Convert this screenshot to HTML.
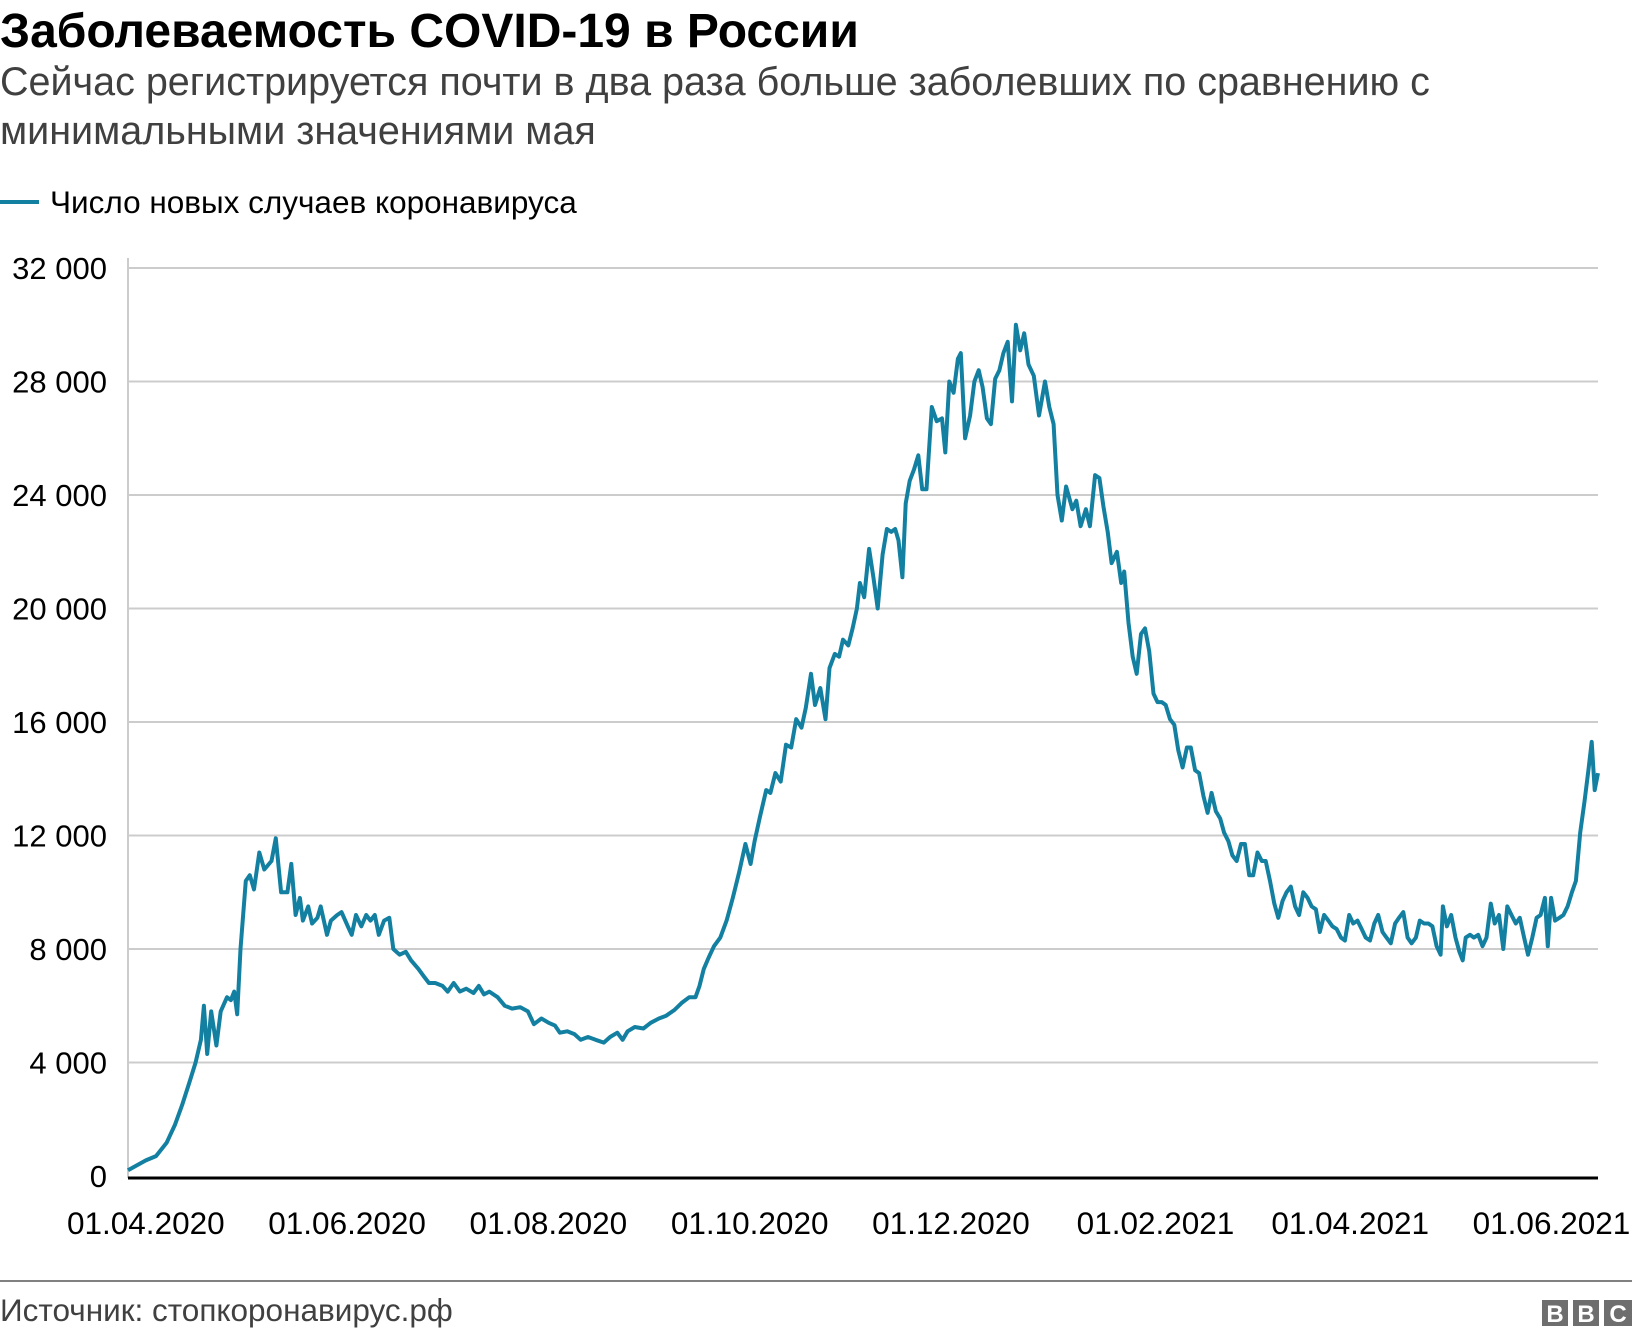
<!DOCTYPE html>
<html><head><meta charset="utf-8"><style>
body{margin:0;background:#fff;width:1632px;height:1336px;overflow:hidden;font-family:"Liberation Sans",Arial,sans-serif;}
svg text{font-family:"Liberation Sans",Arial,sans-serif;}
</style></head><body>
<svg id="c" width="1632" height="1336">
<text x="0" y="47" font-size="48" font-weight="bold" fill="#000">Заболеваемость COVID-19 в России</text>
<text x="0" y="95" font-size="39.5" fill="#404040">Сейчас регистрируется почти в два раза больше заболевших по сравнению с</text>
<text x="0" y="144" font-size="39.5" fill="#404040">минимальными значениями мая</text>
<line x1="0" y1="202" x2="39" y2="202" stroke="#1380a1" stroke-width="4"/>
<text x="50" y="213" font-size="31.5" fill="#000">Число новых случаев коронавируса</text>
<g id="grid"></g><g id="ylab"></g><g id="xlab"></g>
<line x1="128" y1="258" x2="128" y2="1178" stroke="#cccccc" stroke-width="2"/>
<path id="line" fill="none" stroke="#1380a1" stroke-width="4" stroke-linejoin="round"/>
<line x1="128" y1="1178" x2="1598" y2="1178" stroke="#000" stroke-width="3"/>
<line x1="0" y1="1281" x2="1632" y2="1281" stroke="#808080" stroke-width="2"/>
<text x="0" y="1321" font-size="31.5" fill="#404040">Источник: стопкоронавирус.рф</text>
<g>
<rect x="1542" y="1300" width="26" height="26" fill="#6e6e6e"/><rect x="1573" y="1300" width="26" height="26" fill="#6e6e6e"/><rect x="1604" y="1300" width="28" height="26" fill="#6e6e6e"/>
<text x="1555" y="1322" font-size="24" font-weight="bold" fill="#fff" text-anchor="middle">B</text>
<text x="1586" y="1322" font-size="24" font-weight="bold" fill="#fff" text-anchor="middle">B</text>
<text x="1618" y="1322" font-size="24" font-weight="bold" fill="#fff" text-anchor="middle">C</text>
</g>
</svg>
<script>
const yTicks=[0,4000,8000,12000,16000,20000,24000,28000,32000];
const yTickLabels=["0","4 000","8 000","12 000","16 000","20 000","24 000","28 000","32 000"];
const xTickDays=[5.4,66.4,127.4,188.4,249.4,311.4,370.4,431.4];
const xTickLabels=["01.04.2020","01.06.2020","01.08.2020","01.10.2020","01.12.2020","01.02.2021","01.04.2021","01.06.2021"];
const days=[0,5.4,8.5,11.7,14.2,16.4,18.6,20.5,22.1,23,24,25.2,26.8,28.1,30,31.2,32.2,33.1,34.1,35.7,36.9,38.2,39.8,41.3,43.5,44.8,46.4,48.3,49.5,50.8,52.1,53,54.6,55.8,57.4,58.4,60.3,61.5,63.4,64.7,66.6,67.8,69.1,70.7,72.2,73.5,74.8,76,77.6,79.2,80.4,82.3,84.2,85.8,88,89.9,91.2,93.1,95.3,96.9,98.7,100.6,102.5,104.7,106.3,107.9,109.5,112,114.2,116.4,118.9,121.2,123,125.3,127.5,129.4,130.9,133.1,135.3,137.2,139.4,141.7,144.2,146.1,148.3,149.9,151.4,153.6,156.2,158.4,160.9,163.1,165.6,167.8,170.1,172,173.2,174.5,176,177.6,179.5,181.4,183.3,185.2,187.1,188.7,189.9,191.5,193.4,194.7,196.2,197.8,199.4,201,202.5,204.1,205.4,207,208.2,209.8,211.4,212.6,214.2,215.5,216.7,218.3,219.6,220.9,221.8,223.1,224.6,225.9,227.2,228.7,230,231.3,232.5,233.5,234.7,235.7,236.9,238.2,239.5,240.7,242,243.6,245.1,246.7,247.7,248.9,250.2,251.5,252.4,253.7,255.2,256.5,257.8,259,260.3,261.5,262.8,264.1,265.3,266.6,267.9,269.1,270.4,271.6,272.9,274.5,276.1,277.9,279.2,280.5,281.7,283,284.3,286.2,287.4,288.7,290.3,291.5,293.1,294.4,295.6,296.9,298.1,299.7,301,301.9,303.2,304.5,305.7,307,308.2,309.5,310.8,312,313.3,314.5,315.8,317.1,318.3,319.6,320.9,322.1,323.4,324.6,325.9,327.2,328.4,329.7,331,332.2,333.5,334.7,336,337.3,338.5,339.8,341,342.3,343.6,344.8,346.1,347.4,348.6,349.9,351.1,352.4,353.7,354.9,356.2,357.5,358.7,360,361.2,362.5,363.8,365,366.3,367.6,368.8,370.1,371.3,372.6,373.9,375.1,376.4,377.7,378.9,380.2,381.4,382.7,384,385.2,386.5,387.8,389,390.3,391.5,392.8,394.1,395.3,396.6,397.8,398.5,399.7,401,402.3,403.5,404.5,405.4,406.7,407.9,409.2,410.5,411.7,413,414.2,415.5,416.8,418,419.3,420.6,421.8,423.1,424.3,425.6,426.9,428.1,429.4,430.3,431.3,432.5,433.8,435,436.3,437.6,438.8,440.1,441.4,442.6,443.6,444.5,445.5];
const cases=[200,550,700,1170,1800,2500,3300,4000,4800,6000,4300,5800,4600,5800,6300,6200,6500,5700,8000,10400,10600,10100,11400,10800,11100,11900,10000,10000,11000,9200,9800,9000,9500,8900,9100,9500,8500,9000,9200,9300,8800,8500,9200,8800,9200,9000,9200,8500,9000,9100,8000,7800,7900,7600,7300,7000,6800,6800,6700,6500,6800,6500,6600,6450,6700,6400,6500,6300,6000,5900,5950,5800,5350,5550,5400,5300,5050,5100,5000,4800,4900,4800,4700,4900,5050,4800,5100,5250,5200,5400,5550,5650,5850,6100,6300,6300,6700,7300,7700,8100,8400,9000,9800,10700,11700,11000,11800,12650,13600,13500,14200,13900,15200,15100,16100,15800,16500,17700,16600,17200,16100,17900,18400,18300,18900,18700,19300,20000,20900,20400,22100,21100,20000,21900,22800,22700,22800,22400,21100,23700,24500,24900,25400,24200,24200,27100,26600,26700,25500,28000,27600,28800,29000,26000,26800,28000,28400,27800,26700,26500,28100,28400,29000,29400,27300,30000,29100,29700,28600,28200,26800,28000,27100,26500,24000,23100,24300,23500,23800,22900,23500,22900,24700,24600,23600,22700,21600,22000,20900,21300,19500,18300,17700,19100,19300,18500,17000,16700,16700,16600,16100,15900,15000,14400,15100,15100,14300,14200,13400,12800,13500,12850,12600,12100,11800,11300,11100,11700,11700,10600,10600,11400,11100,11100,10400,9600,9100,9700,10000,10200,9500,9200,10000,9800,9500,9400,8600,9200,9000,8800,8700,8400,8300,9200,8900,9000,8700,8400,8300,8900,9200,8600,8400,8200,8900,9100,9300,8400,8200,8400,9000,8900,8900,8800,8100,7800,9500,8800,9200,8400,7900,7600,8400,8500,8400,8500,8100,8400,9600,8900,9200,8000,9500,9200,8900,9100,8400,7800,8400,9100,9200,9800,8100,9800,9000,9100,9200,9500,10000,10400,12100,13200,14300,15300,13600,14200];
const NS="http://www.w3.org/2000/svg";
const x0=128,x1=1598,y0=1176,y1=268;
const xs=d=>x0+(d-0)/(445.5)*(x1-x0);
const ys=v=>y0-(v/32000)*(y0-y1);
const grid=document.getElementById('grid'),yl=document.getElementById('ylab'),xl=document.getElementById('xlab');
yTicks.forEach((t,i)=>{
  if(t>0){const l=document.createElementNS(NS,'line');
  l.setAttribute('x1',x0);l.setAttribute('x2',x1);l.setAttribute('y1',ys(t));l.setAttribute('y2',ys(t));
  l.setAttribute('stroke','#cccccc');l.setAttribute('stroke-width','2');
  
  
  grid.appendChild(l);}
  const tx=document.createElementNS(NS,'text');
  tx.setAttribute('x',107);tx.setAttribute('y',ys(t)+11);tx.setAttribute('text-anchor','end');tx.setAttribute('font-size','31');
  tx.textContent=yTickLabels[i];
  
  
  yl.appendChild(tx);
});
xTickDays.forEach((d,i)=>{
  const tx=document.createElementNS(NS,'text');
  tx.setAttribute('x',xs(d));tx.setAttribute('y',1234);tx.setAttribute('text-anchor','middle');tx.setAttribute('font-size','31.5');
  tx.textContent=xTickLabels[i];
  
  
  xl.appendChild(tx);
});
document.getElementById('line').setAttribute('d',days.map((d,i)=>(i?'L':'M')+xs(d).toFixed(1)+','+ys(cases[i]).toFixed(1)).join(''));
</script>
</body></html>
